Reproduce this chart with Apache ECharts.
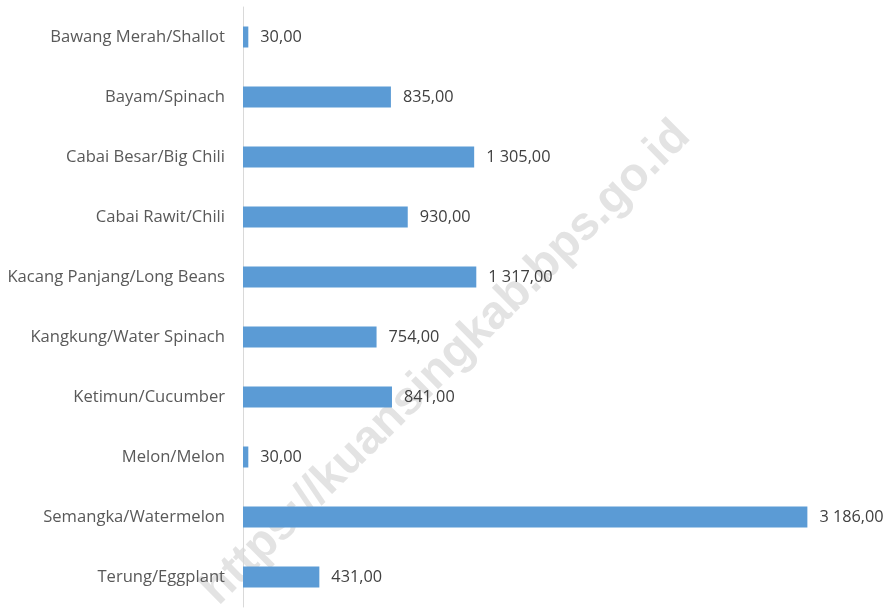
<!DOCTYPE html>
<html>
<head>
<meta charset="utf-8">
<script src="https://cdn.jsdelivr.net/npm/echarts@6/dist/echarts.min.js"></script>
<style>
  html, body { margin: 0; padding: 0; background: #fff; }
  #chart { width: 890px; height: 608px; }
</style>
</head>
<body>
<div id="chart"></div>
<script>
var categories = [
    'Bawang Merah/Shallot',
    'Bayam/Spinach',
    'Cabai Besar/Big Chili',
    'Cabai Rawit/Chili',
    'Kacang Panjang/Long Beans',
    'Kangkung/Water Spinach',
    'Ketimun/Cucumber',
    'Melon/Melon',
    'Semangka/Watermelon',
    'Terung/Eggplant'
]
var values = [30, 835, 1305, 930, 1317, 754, 841, 30, 3186, 431]

// 1 305,00 style
function fmt(v) {
    var s = Math.round(v).toString().replace(/\B(?=(\d{3})+(?!\d))/g, ' ')
    return s + ',00'
}

var chart = echarts.init(document.getElementById('chart'))
var option = {
    backgroundColor: '#fff',
    animation: false,
    textStyle: { fontFamily: '"Open Sans", sans-serif' },
    graphic: [
        {
            type: 'text',
            z: -10,
            x: 446,
            y: 363,
            rotation: 0.78,
            style: {
                text: 'https://kuansingkab.bps.go.id',
                font: 'bold 47px "Liberation Sans", Arial, sans-serif',
                fill: '#e3e3e3',
                textAlign: 'center',
                textVerticalAlign: 'middle'
            }
        }
    ],
    grid: { left: 243, right: 27, top: 7, bottom: 1, containLabel: false },
    xAxis: {
        type: 'value',
        min: 0,
        max: 3500,
        show: false
    },
    yAxis: {
        type: 'category',
        data: categories,
        inverse: true,
        axisLine: { show: true, lineStyle: { color: '#d9d9d9', width: 1 } },
        axisTick: { show: false },
        axisLabel: { color: '#595959', fontSize: 16.6, margin: 18 }
    },
    series: [
        {
            type: 'bar',
            data: values,
            barWidth: 21,
            z: 5,
            itemStyle: { color: '#5b9bd5' },
            label: {
                show: true,
                position: 'right',
                distance: 12,
                color: '#404040',
                fontSize: 16.3,
                formatter: function (p) { return fmt(p.value) }
            }
        }
    ]
}
chart.setOption(option)
</script>
</body>
</html>
